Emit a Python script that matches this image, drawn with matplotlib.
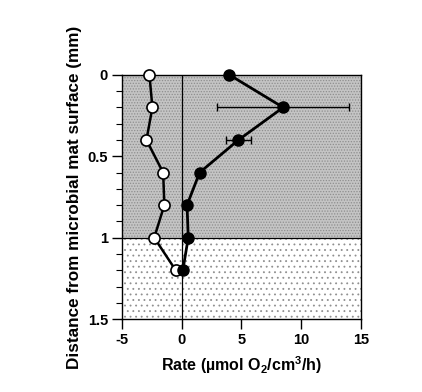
import matplotlib
matplotlib.use("Agg")
import matplotlib.pyplot as plt

plt.rcParams['font.family'] = ['Liberation Sans', 'DejaVu Sans']
plt.rcParams['font.weight'] = 'bold'
plt.rcParams['mathtext.fontset'] = 'custom'
plt.rcParams['mathtext.bf'] = 'Liberation Sans:bold'
plt.rcParams['mathtext.rm'] = 'Liberation Sans:bold'
plt.rcParams['axes.unicode_minus'] = False
plt.rcParams['hatch.linewidth'] = 0.6

depth = [0, 0.2, 0.4, 0.6, 0.8, 1.0, 1.2]
rate_open = [-2.7, -2.45, -2.95, -1.55, -1.45, -2.3, -0.5]
rate_filled = [4.0, 8.5, 4.75, 1.5, 0.45, 0.55, 0.1]
err_filled = [0, 5.55, 1.05, 0, 0, 0, 0]

fig = plt.figure(figsize=(4.22, 3.92), dpi=100)
ax = fig.add_axes([0.289, 0.186, 0.566, 0.623])

# shaded layers: mat (0-1 mm) and sediment below
ax.axhspan(0, 1.0, facecolor='#c4c4c4', edgecolor='#8e8e8e', hatch='......', linewidth=0, zorder=0)
ax.axhspan(1.0, 1.5, facecolor='white', edgecolor='#909090', hatch='...', linewidth=0, zorder=0)
ax.axhline(1.0, color='black', lw=0.9, zorder=1)
ax.axvline(0, color='black', lw=0.9, zorder=1)

ax.errorbar(rate_filled, depth, xerr=err_filled, color='black', lw=2.0,
            marker='o', ms=8, mfc='black', mec='black', ecolor='black',
            elinewidth=1.0, capsize=3, capthick=1.0, zorder=3, clip_on=False)
ax.plot(rate_open, depth, color='black', lw=1.8, marker='o', ms=8,
        mfc='white', mec='black', mew=1.2, zorder=3, clip_on=False)

ax.set_xlim(-5, 15)
ax.set_ylim(1.5, 0)
ax.set_xticks([-5, 0, 5, 10, 15])
ax.set_yticks([0, 0.5, 1, 1.5])
ax.set_yticklabels(['0', '0.5', '1', '1.5'])
ax.set_yticks([i / 10 for i in range(16)], minor=True)
ax.tick_params(axis='both', which='major', direction='out', length=7, width=1,
               labelsize=10.5, pad=3)
ax.tick_params(axis='y', which='minor', direction='out', length=4, width=0.8)
for s in ax.spines.values():
    s.set_linewidth(1.0)

ax.set_xlabel(r'Rate (µmol O$_\mathbf{2}$/cm$^\mathbf{3}$/h)', fontsize=11.5,
              fontweight='bold', labelpad=5)
ax.set_ylabel('Distance from microbial mat surface (mm)', fontsize=12.3,
              fontweight='bold', labelpad=4)

fig.savefig('out.png', dpi=100)
